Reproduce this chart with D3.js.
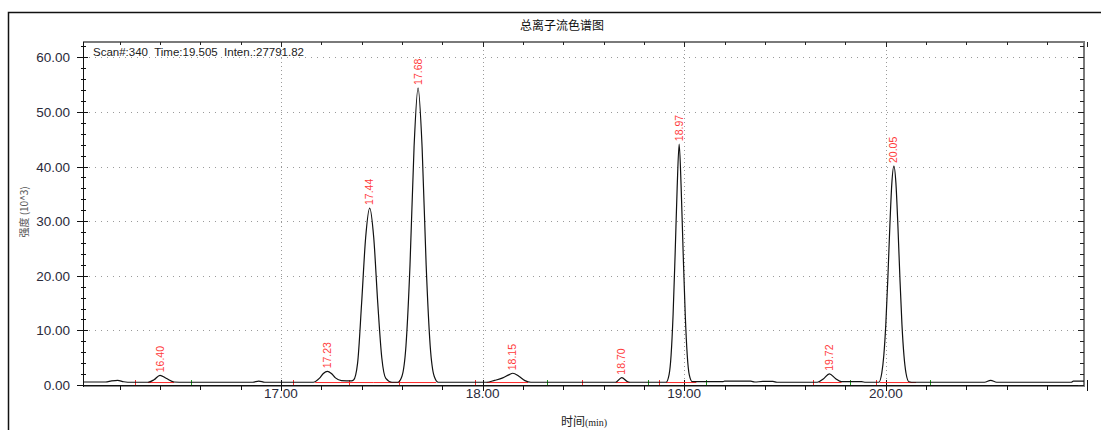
<!DOCTYPE html>
<html>
<head>
<meta charset="utf-8">
<script src="https://cdn.jsdelivr.net/npm/d3@7"></script>
<style>
  body { margin: 0; background: #fff; }
  svg { display: block; }
</style>
</head>
<body>
<div id="chart"></div>
<script>
// trace (time in min, intensity in 10^3)
let traceTimes = [16.02, 16.13, 16.16, 16.19, 16.22, 16.26, 16.34, 16.37, 16.40, 16.43, 16.47, 16.52,
  16.86, 16.89, 16.92, 17.16, 17.19, 17.21, 17.23, 17.25, 17.27, 17.30, 17.35,
  17.36, 17.38, 17.40, 17.42, 17.44, 17.46, 17.48, 17.50, 17.52, 17.55,
  17.58, 17.60, 17.62, 17.64, 17.66, 17.68, 17.70, 17.72, 17.74, 17.76, 17.78,
  18.02, 18.06, 18.10, 18.13, 18.15, 18.18, 18.21, 18.24,
  18.66, 18.69, 18.72, 18.74,
  18.91, 18.925, 18.935, 18.945, 18.955, 18.965, 18.975, 18.985, 18.995, 19.005, 19.015, 19.025, 19.04,
  19.19, 19.20, 19.33, 19.35, 19.39, 19.44, 19.46,
  19.66, 19.69, 19.72, 19.75, 19.78, 19.88, 19.90,
  19.965, 19.98, 19.99, 20.00, 20.01, 20.02, 20.03, 20.04, 20.05, 20.06, 20.07, 20.08, 20.09, 20.10, 20.115, 20.14,
  20.49, 20.52, 20.55, 20.92, 20.93, 20.983];
let traceValues = [0.55, 0.55, 0.75, 0.85, 0.6, 0.5, 0.5, 0.95, 1.78, 1.25, 0.55, 0.5,
  0.5, 0.72, 0.5, 0.5, 1.2, 2.1, 2.5, 2.1, 1.3, 0.8, 0.75,
  0.9, 4, 15, 27, 32.4, 27, 15, 5, 1.2, 0.5,
  0.5, 1.6, 7.2, 22, 43.5, 54.4, 43.5, 22, 7.2, 1.6, 0.5,
  0.5, 0.85, 1.3, 1.85, 2.15, 1.6, 0.8, 0.5,
  0.5, 1.35, 0.6, 0.5,
  0.5, 1.9, 5.5, 13, 24, 36, 44.1, 36, 24, 13, 5.5, 1.9, 0.6,
  0.6, 0.7, 0.7, 0.55, 0.65, 0.65, 0.5,
  0.5, 1.1, 2.05, 1.2, 0.6, 0.6, 0.5,
  0.5, 2.2, 5.4, 11.1, 19.5, 29.1, 37, 40.1, 37, 29.1, 19.5, 11.1, 5.4, 2.2, 0.6, 0.5,
  0.5, 0.85, 0.5, 0.5, 0.7, 0.7];

// peak labels
let peakLabels = ["16.40", "17.23", "17.44", "17.68", "18.15", "18.70", "18.97", "19.72", "20.05"];
let peakTimes = [16.40, 17.23, 17.44, 17.68, 18.15, 18.69, 18.975, 19.72, 20.04];
let peakHeights = [1.78, 2.5, 32.4, 54.4, 2.15, 1.35, 44.1, 2.05, 40.1];

// integration marks
let baseStarts = [16.34, 17.17, 17.46, 18.02, 18.66, 18.91, 19.67, 19.97];
let baseEnds = [16.47, 17.46, 17.77, 18.225, 18.73, 19.06, 19.78, 20.15];
let redTicks = [16.276, 17.06, 17.337, 17.587, 17.962, 18.494, 18.874, 19.639, 19.95];
let greenTicks = [16.554, 18.317, 18.821, 19.11, 19.822, 20.22];

let yTicks = [0, 10, 20, 30, 40, 50, 60];
let xTicks = [17, 18, 19, 20];

let w = 1101;
let h = 430;
let mLeft = 83, mRight = 1084, mTop = 42, mBottom = 385;

let svg = d3.select("#chart").append("svg")
    .attr("width", w)
    .attr("height", h)
;

let xScale = d3.scaleLinear().domain([16.018, 20.983]).range([mLeft, mRight]);
let yScale = d3.scaleLinear().domain([0, 62.8]).range([mBottom, mTop]);
let fmt = d3.format(".2f");

// outer frame
svg.append("path")
    .attr("d", "M8.5," + h + "V12.5H" + w)
    .attr("fill", "none")
    .attr("stroke", "#111")
    .attr("stroke-width", 1.5)
;

// title
svg.append("text")
    .attr("x", 562)
    .attr("y", 30)
    .attr("text-anchor", "middle")
    .attr("font-family", "Noto Sans CJK SC")
    .attr("font-size", 12)
    .attr("fill", "#111")
    .text("总离子流色谱图")
;

// grid
let minorY = d3.range(0, 63, 2);
let minorX = d3.range(16.2, 21, 0.2);

svg.selectAll(".hgrid").data(yTicks.filter(d => d > 0)).enter()
  .append("line")
    .attr("class", "hgrid")
    .attr("x1", mLeft).attr("x2", mRight)
    .attr("y1", d => Math.round(yScale(d)) + 0.5)
    .attr("y2", d => Math.round(yScale(d)) + 0.5)
    .attr("stroke", "#9a9a9a")
    .attr("stroke-dasharray", "1,5")
;
svg.selectAll(".vgrid").data(xTicks).enter()
  .append("line")
    .attr("class", "vgrid")
    .attr("y1", mTop).attr("y2", mBottom)
    .attr("x1", d => Math.round(xScale(d)) + 0.5)
    .attr("x2", d => Math.round(xScale(d)) + 0.5)
    .attr("stroke", "#9a9a9a")
    .attr("stroke-dasharray", "1,3")
;

// plot box
svg.append("path")
    .attr("d", "M" + mLeft + "," + mTop + "H" + mRight + "V" + (mBottom + 1))
    .attr("fill", "none")
    .attr("stroke", "#7a7a7a")
    .attr("stroke-width", 2)
;
svg.append("line")
    .attr("x1", mLeft).attr("x2", mRight + 1)
    .attr("y1", mBottom + 1.5).attr("y2", mBottom + 1.5)
    .attr("stroke", "#8a8a8a")
;
svg.append("line")
    .attr("x1", mLeft).attr("x2", mRight)
    .attr("y1", mBottom + 0.5).attr("y2", mBottom + 0.5)
    .attr("stroke", "#111")
;
svg.append("line")
    .attr("x1", mLeft + 0.5).attr("x2", mLeft + 0.5)
    .attr("y1", mTop).attr("y2", mBottom + 2)
    .attr("stroke", "#111")
;

// left and right ticks
svg.selectAll(".ytick").data(minorY).enter()
  .append("line")
    .attr("class", "ytick")
    .attr("x1", d => d % 10 == 0 ? mLeft - 6 : mLeft - 2)
    .attr("x2", d => d % 10 == 0 ? mLeft + 5 : mLeft + 3)
    .attr("y1", d => Math.round(yScale(d)) + 0.5)
    .attr("y2", d => Math.round(yScale(d)) + 0.5)
    .attr("stroke", "#111")
;
svg.selectAll(".rtick").data(minorY).enter()
  .append("line")
    .attr("class", "rtick")
    .attr("x1", d => d % 10 == 0 ? mRight - 6 : mRight - 4)
    .attr("x2", mRight)
    .attr("y1", d => Math.round(yScale(d)) + 0.5)
    .attr("y2", d => Math.round(yScale(d)) + 0.5)
    .attr("stroke", "#222")
;

// top and bottom ticks
svg.selectAll(".btick").data(minorX).enter()
  .append("line")
    .attr("class", "btick")
    .attr("x1", d => Math.round(xScale(d)) + 0.5)
    .attr("x2", d => Math.round(xScale(d)) + 0.5)
    .attr("y1", d => Math.abs(d - Math.round(d)) < 0.01 ? mBottom - 5 : mBottom)
    .attr("y2", d => Math.abs(d - Math.round(d)) < 0.01 ? mBottom + 6 : mBottom + 5)
    .attr("stroke", "#111")
;
svg.selectAll(".ttick").data(minorX).enter()
  .append("line")
    .attr("class", "ttick")
    .attr("x1", d => Math.round(xScale(d)) + 0.5)
    .attr("x2", d => Math.round(xScale(d)) + 0.5)
    .attr("y1", mTop)
    .attr("y2", d => Math.abs(d - Math.round(d)) < 0.01 ? mTop + 5 : mTop + 3)
    .attr("stroke", "#222")
;

// tick labels
svg.selectAll(".ylabel").data(yTicks).enter()
  .append("text")
    .attr("class", "ylabel")
    .attr("x", 70)
    .attr("y", d => yScale(d) + 5)
    .attr("text-anchor", "end")
    .attr("font-family", "Arial, Liberation Sans")
    .attr("font-size", 13.5)
    .attr("fill", "#2a2a3a")
    .text(d => fmt(d))
;
svg.selectAll(".xlabel").data(xTicks).enter()
  .append("text")
    .attr("class", "xlabel")
    .attr("x", d => xScale(d))
    .attr("y", 398)
    .attr("text-anchor", "middle")
    .attr("font-family", "Arial, Liberation Sans")
    .attr("font-size", 13.5)
    .attr("fill", "#2a2a3a")
    .text(d => fmt(d))
;

// axis titles
svg.append("text")
    .attr("transform", "translate(28,212) rotate(-90)")
    .attr("text-anchor", "middle")
    .attr("font-family", "Noto Sans CJK SC")
    .attr("font-size", 10)
    .attr("fill", "#555")
    .text("强度 (10^3)")
;
let xt = svg.append("text")
    .attr("x", 584)
    .attr("y", 426)
    .attr("text-anchor", "middle")
    .attr("fill", "#222")
;
xt.append("tspan")
    .attr("font-family", "Noto Sans CJK SC")
    .attr("font-size", 12)
    .text("时间");
xt.append("tspan")
    .attr("font-family", "Liberation Serif")
    .attr("font-size", 10)
    .text("(min)");

// scan info
svg.append("text")
    .attr("x", 93)
    .attr("y", 56)
    .attr("font-family", "Arial, Liberation Sans")
    .attr("font-size", 11.5)
    .attr("fill", "#222")
    .attr("xml:space", "preserve")
    .style("white-space", "pre")
    .text("Scan#:340  Time:19.505  Inten.:27791.82")
;

// integration baselines and marks
svg.selectAll(".baseline").data(baseStarts).enter()
  .append("line")
    .attr("class", "baseline")
    .attr("x1", d => xScale(d))
    .attr("x2", (d, i) => xScale(baseEnds[i]))
    .attr("y1", yScale(0.45))
    .attr("y2", yScale(0.45))
    .attr("stroke", "#ff2a2a")
;
svg.selectAll(".redtick").data(redTicks).enter()
  .append("line")
    .attr("class", "redtick")
    .attr("x1", d => Math.round(xScale(d)) + 0.5)
    .attr("x2", d => Math.round(xScale(d)) + 0.5)
    .attr("y1", yScale(0.45) - 2.5)
    .attr("y2", yScale(0.45) + 2.5)
    .attr("stroke", "#ff2a2a")
;
svg.selectAll(".greentick").data(greenTicks).enter()
  .append("line")
    .attr("class", "greentick")
    .attr("x1", d => Math.round(xScale(d)) + 0.5)
    .attr("x2", d => Math.round(xScale(d)) + 0.5)
    .attr("y1", yScale(0.45) - 2.5)
    .attr("y2", yScale(0.45) + 2.5)
    .attr("stroke", "#1a9a1a")
;

// the trace
let line = d3.line()
    .x(d => xScale(d[0]))
    .y(d => yScale(d[1]))
    .curve(d3.curveMonotoneX)
;
svg.append("path")
    .datum(traceTimes.map((t, i) => [t, traceValues[i]]))
    .attr("d", line)
    .attr("fill", "none")
    .attr("stroke", "#111")
    .attr("stroke-width", 1.2)
;

// peak labels
svg.selectAll(".peaklabel").data(peakLabels).enter()
  .append("text")
    .attr("class", "peaklabel")
    .attr("transform", (d, i) => "translate(" + (xScale(peakTimes[i]) + 3.5) + "," + (yScale(peakHeights[i]) - 3) + ") rotate(-90)")
    .attr("font-family", "Arial, Liberation Sans")
    .attr("font-size", 10.5)
    .attr("fill", "#ff3b3b")
    .text(d => d)
;
</script>
</body>
</html>
